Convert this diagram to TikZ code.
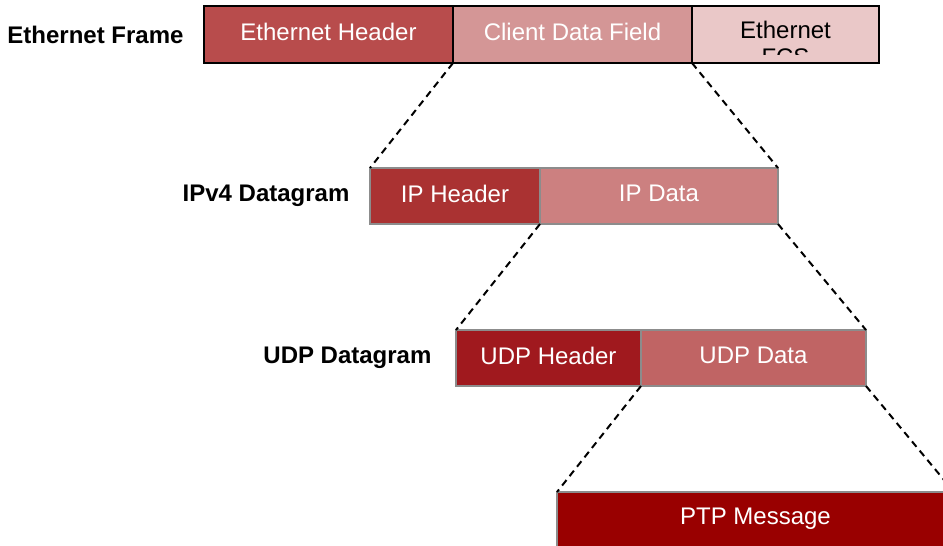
\documentclass[tikz,border=0pt]{standalone}
\usepackage{fontspec}
\setmainfont{Liberation Sans}
\usetikzlibrary{positioning}

\definecolor{ethhdr}{HTML}{B84C4C}
\definecolor{ethdata}{HTML}{D49696}
\definecolor{ethfcs}{HTML}{EAC8C8}
\definecolor{iphdr}{HTML}{AA3232}
\definecolor{ipdata}{HTML}{CC8080}
\definecolor{udphdr}{HTML}{A0191E}
\definecolor{udpdata}{HTML}{C06464}
\definecolor{ptpmsg}{HTML}{990000}
\definecolor{fieldgrey}{HTML}{8C8C8C}

\begin{document}
\begin{tikzpicture}[x=1pt,y=-1pt,font=\fontsize{24}{28}\selectfont,
  field/.style={draw=fieldgrey,line width=1.5pt,minimum height=56pt,inner sep=0pt,outer sep=0pt,text=white,text depth=5pt},
  ethfield/.style={field,draw=black,minimum height=57pt},
  layer/.style={font=\fontsize{24}{28}\selectfont\bfseries},
  zoomline/.style={line width=2pt,dash pattern=on 7pt off 5pt}]
  \clip (0,0) rectangle (943,546);

  \node[ethfield,fill=ethhdr,minimum width=249pt,anchor=north west] (ethhdr) at (204,6) {Ethernet Header};
  \node[ethfield,fill=ethdata,minimum width=239pt,right=0pt of ethhdr] (ethdata) {Client Data Field};
  \node[ethfield,fill=ethfcs,minimum width=187pt,right=0pt of ethdata] (ethfcs) {};
  \begin{scope}
    \clip (ethfcs.north west) rectangle ([yshift=9pt]ethfcs.south east);
    \node[anchor=base] (fcsa) at (ethfcs.center |- 0,38) {Ethernet};
    \node[anchor=base] (fcsb) at (ethfcs.center |- 0,65) {FCS};
  \end{scope}
  \node[layer,left=17pt of ethhdr] (ethlbl) {Ethernet Frame};

  \node[field,fill=iphdr,minimum width=170pt,anchor=north west] (iphdr) at (370,168) {IP Header};
  \node[field,fill=ipdata,minimum width=238pt,right=0pt of iphdr] (ipdata) {IP Data};
  \node[layer,left=17pt of iphdr] (iplbl) {IPv4 Datagram};

  \node[field,fill=udphdr,minimum width=185pt,anchor=north west] (udphdr) at (456,330) {UDP Header};
  \node[field,fill=udpdata,minimum width=225pt,right=0pt of udphdr] (udpdata) {UDP Data};
  \node[layer,left=21pt of udphdr] (udplbl) {UDP Datagram};

  \node[field,fill=ptpmsg,minimum width=397pt,minimum height=80pt,anchor=north west,text depth=31pt] (ptp) at (557,492) {PTP Message};

  \path[zoomline]
    (ethhdr.south east) edge (iphdr.north west)
    (ethdata.south east) edge (ipdata.north east)

    (iphdr.south east) edge (udphdr.north west)
    (ipdata.south east) edge (udpdata.north east)

    (udphdr.south east) edge (ptp.north west)
    (udpdata.south east) edge (ptp.north east);
\end{tikzpicture}
\end{document}
